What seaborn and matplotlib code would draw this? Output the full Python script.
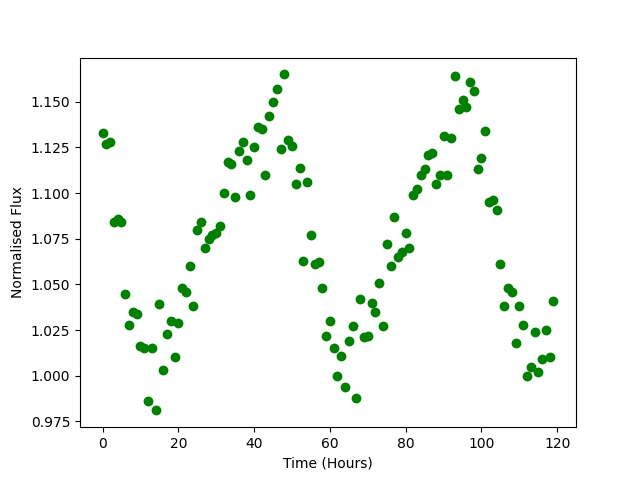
import numpy as np
import pandas as pd
import seaborn as sns
import matplotlib
matplotlib.use('Agg')
import matplotlib.pyplot as plt

# 시간 (시간 단위)
hours = list(range(120))

# 정규화된 광도
flux = [1.133, 1.127, 1.128, 1.084, 1.086, 1.084, 1.045, 1.028, 1.035, 1.034,
        1.016, 1.015, 0.986, 1.015, 0.981, 1.039, 1.003, 1.023, 1.030, 1.010,
        1.029, 1.048, 1.046, 1.060, 1.038, 1.080, 1.084, 1.070, 1.075, 1.077,
        1.078, 1.082, 1.100, 1.117, 1.116, 1.098, 1.123, 1.128, 1.118, 1.099,
        1.125, 1.136, 1.135, 1.110, 1.142, 1.150, 1.157, 1.124, 1.165, 1.129,
        1.126, 1.105, 1.114, 1.063, 1.106, 1.077, 1.061, 1.062, 1.048, 1.022,
        1.030, 1.015, 1.000, 1.011, 0.994, 1.019, 1.027, 0.988, 1.042, 1.021,
        1.022, 1.040, 1.035, 1.051, 1.027, 1.072, 1.060, 1.087, 1.065, 1.068,
        1.078, 1.070, 1.099, 1.102, 1.110, 1.113, 1.121, 1.122, 1.105, 1.110,
        1.131, 1.110, 1.130, 1.164, 1.146, 1.151, 1.147, 1.161, 1.156, 1.113,
        1.119, 1.134, 1.095, 1.096, 1.091, 1.061, 1.038, 1.048, 1.046, 1.018,
        1.038, 1.028, 1.000, 1.005, 1.024, 1.002, 1.009, 1.025, 1.010, 1.041]

df = pd.DataFrame({'Time': hours, 'Flux': flux})

fig, ax = plt.subplots(figsize=(6.4, 4.8), dpi=100)
sns.scatterplot(data=df, x='Time', y='Flux', color='green', s=50, linewidth=0, ax=ax)

ax.set_xlabel('Time (Hours)')
ax.set_ylabel('Normalised Flux')

plt.savefig('out.png', dpi=100)
